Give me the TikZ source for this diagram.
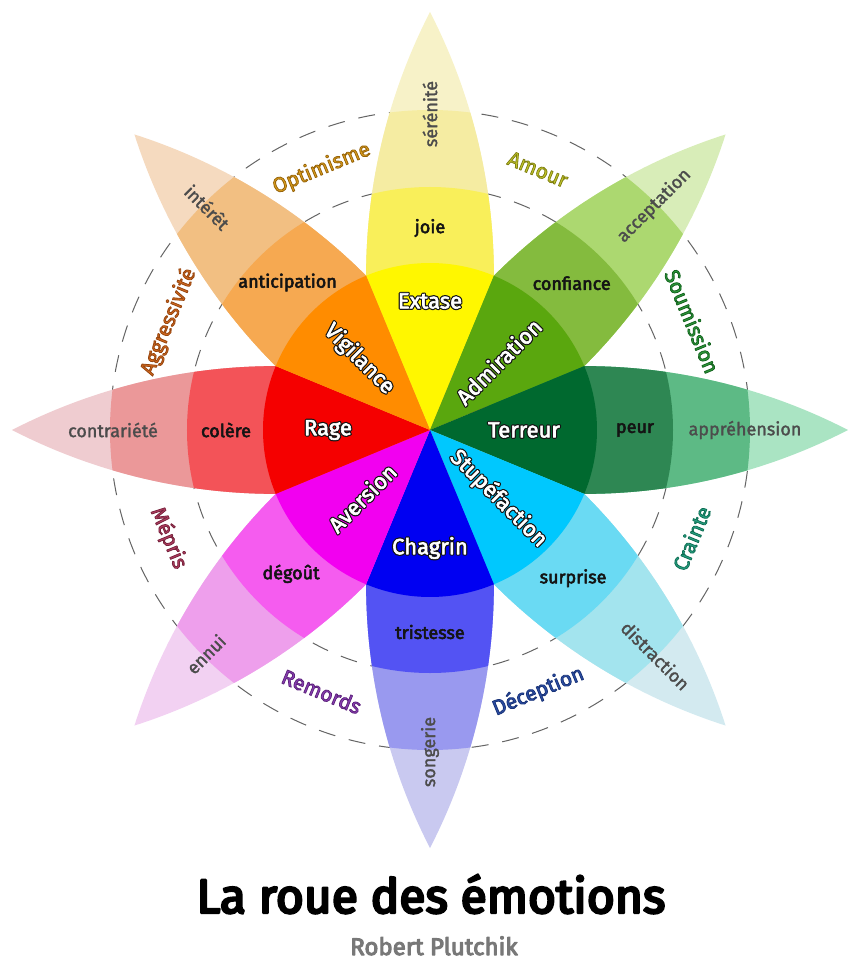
\documentclass[tikz,border=0pt]{standalone}
\usepackage{fontspec}
\setmainfont{Fira Sans}
\definecolor{Y1}{HTML}{FFF700}\definecolor{Y2}{HTML}{F9EF5A}\definecolor{Y3}{HTML}{F5ECA2}\definecolor{Y4}{HTML}{F7F2C8}
\definecolor{G1}{HTML}{5AA70E}\definecolor{G2}{HTML}{84BB3E}\definecolor{G3}{HTML}{ACD870}\definecolor{G4}{HTML}{D8EDB8}
\definecolor{D1}{HTML}{00692F}\definecolor{D2}{HTML}{2E8753}\definecolor{D3}{HTML}{5DBA85}\definecolor{D4}{HTML}{AAE4C3}
\definecolor{C1}{HTML}{00C8FE}\definecolor{C2}{HTML}{6ADAF3}\definecolor{C3}{HTML}{A3E4EE}\definecolor{C4}{HTML}{D3EAF0}
\definecolor{B1}{HTML}{0000F2}\definecolor{B2}{HTML}{5353F3}\definecolor{B3}{HTML}{9999EF}\definecolor{B4}{HTML}{C9C9F0}
\definecolor{M1}{HTML}{F200F0}\definecolor{M2}{HTML}{F55CEF}\definecolor{M3}{HTML}{EE9FEC}\definecolor{M4}{HTML}{F2D1F2}
\definecolor{R1}{HTML}{F50000}\definecolor{R2}{HTML}{F35358}\definecolor{R3}{HTML}{EB9899}\definecolor{R4}{HTML}{EFCCD0}
\definecolor{O1}{HTML}{FF8C00}\definecolor{O2}{HTML}{F6A951}\definecolor{O3}{HTML}{F2BF82}\definecolor{O4}{HTML}{F5DABF}
\definecolor{dOpt}{HTML}{DDA01C}\definecolor{dAmo}{HTML}{C4C82A}\definecolor{dSou}{HTML}{2E9A3B}\definecolor{dCra}{HTML}{27A283}
\definecolor{dDec}{HTML}{2C4FA8}\definecolor{dRem}{HTML}{8B3FB5}\definecolor{dMep}{HTML}{B23D62}\definecolor{dAgg}{HTML}{D2691E}
\definecolor{outertxt}{HTML}{4C4C4C}
\definecolor{midcol}{HTML}{141414}
% text drawn with fill + stroke (PDF text render mode 2)
\newcommand\stroketext[3]{\special{pdf:literal direct q 2 Tr #1 w #2 RG 1 j}#3\special{pdf:literal direct Q}}
% stroke only (render mode 1)
\newcommand\outlineonly[3]{\special{pdf:literal direct q 1 Tr #1 w #2 RG 1 j}#3\special{pdf:literal direct Q}}
\newcommand\drawpetal[4]{%
  \begin{scope}[rotate=#1]
    \clip (418,0) arc[start angle=62.76,end angle=117.24,radius=576.1]
                  arc[start angle=242.76,end angle=297.24,radius=576.1] -- cycle;
    \fill[#2] (-130,-90) rectangle (430,90);
    \fill[#3] (0,0) circle[radius=320];
    \fill[#4] (0,0) circle[radius=243];
  \end{scope}}
\newcommand\drawcore[2]{%
  \begin{scope}[rotate=#1]
    \fill[#2] (0,0) -- (-22.5:167) arc[start angle=-22.5,end angle=22.5,radius=167] -- cycle;
  \end{scope}}
\newcommand\corelabel[1]{\rlap{\outlineonly{3}{0.08 0.08 0.08}{#1}}\stroketext{0.6}{1 1 1}{#1}}
\newcommand\midlabel[1]{\stroketext{0.55}{0.08 0.08 0.08}{#1}}
\newcommand\outlabel[1]{\stroketext{0.3}{0.3 0.3 0.3}{#1}}
\tikzset{
  coretxt/.style={font=\fontsize{22}{24}\selectfont, text=white, inner sep=0pt},
  midtxt/.style={font=\fontsize{18}{20}\selectfont, text=midcol, inner sep=0pt},
  outtxt/.style={font=\fontsize{18}{20}\selectfont, text=outertxt, inner sep=0pt},
  dyadtxt/.style={font=\fontsize{21}{23}\selectfont, inner sep=0pt},
  dashring/.style={draw={rgb,255:red,100;green,100;blue,100}, line width=1pt, dash pattern=on 17pt off 14pt}
}
\begin{document}
\begin{tikzpicture}[x=1pt,y=1pt]
\useasboundingbox (-430,-542) rectangle (430,430);
% dashed rings
\draw[dashring] (0,0) circle[radius=243];
\draw[dashring] (0,0) circle[radius=320];
% petals
\drawpetal{90}{Y4}{Y3}{Y2}
\drawpetal{45}{G4}{G3}{G2}
\drawpetal{0}{D4}{D3}{D2}
\drawpetal{-45}{C4}{C3}{C2}
\drawpetal{-90}{B4}{B3}{B2}
\drawpetal{-135}{M4}{M3}{M2}
\drawpetal{180}{R4}{R3}{R2}
\drawpetal{135}{O4}{O3}{O2}
% core sectors
\drawcore{90}{Y1}
\drawcore{45}{G1}
\drawcore{0}{D1}
\drawcore{-45}{C1}
\drawcore{-90}{B1}
\drawcore{-135}{M1}
\drawcore{180}{R1}
\drawcore{135}{O1}
% core labels
\node[coretxt] (extase) at (90:129) {\corelabel{Extase}};
\node[coretxt, rotate=45] (admiration) at (45:97) {\corelabel{Admiration}};
\node[coretxt] (terreur) at (0:94) {\corelabel{Terreur}};
\node[coretxt, rotate=-45] (stupefaction) at (-45:97) {\corelabel{Stupéfaction}};
\node[coretxt] (chagrin) at (-90:118) {\corelabel{Chagrin}};
\node[coretxt, rotate=45] (aversion) at (-135:96) {\corelabel{Aversion}};
\node[coretxt] (rage) at (180:102) {\corelabel{Rage}};
\node[coretxt, rotate=-45] (vigilance) at (135:100) {\corelabel{Vigilance}};
% middle labels
\node[midtxt] (joie) at (90:202) {\midlabel{joie}};
\node[midtxt] (confiance) at (46:204) {\midlabel{confiance}};
\node[midtxt] (peur) at (0:205) {\midlabel{peur}};
\node[midtxt] (surprise) at (-46:206) {\midlabel{surprise}};
\node[midtxt] (tristesse) at (-90:202) {\midlabel{tristesse}};
\node[midtxt] (degout) at (-134:200) {\midlabel{dégoût}};
\node[midtxt] (colere) at (180:204) {\midlabel{colère}};
\node[midtxt] (anticipation) at (134:205) {\midlabel{anticipation}};
% outer labels
\node[outtxt, rotate=90] (serenite) at (90:316) {\outlabel{sérénité}};
\node[outtxt, rotate=45] (acceptation) at (45:317) {\outlabel{acceptation}};
\node[outtxt] (apprehension) at (0:315) {\outlabel{appréhension}};
\node[outtxt, rotate=-45] (distraction) at (-45:319) {\outlabel{distraction}};
\node[outtxt, rotate=90] (songerie) at (-90:322) {\outlabel{songerie}};
\node[outtxt, rotate=45] (ennui) at (-135:317) {\outlabel{ennui}};
\node[outtxt] (contrariete) at (180:317) {\outlabel{contrariété}};
\node[outtxt, rotate=-45] (interet) at (135:315) {\outlabel{intérêt}};
% dyads
\node[dyadtxt, text=dOpt, rotate=22.5] (optimisme) at (112.5:283) {\stroketext{0.8}{0.59 0.39 0.04}{Optimisme}};
\node[dyadtxt, text=dAmo, rotate=-22.5] (amour) at (67.5:282) {\stroketext{0.8}{0.5 0.5 0.08}{Amour}};
\node[dyadtxt, text=dSou, rotate=-67.5] (soumission) at (22.5:284) {\stroketext{0.8}{0.08 0.39 0.12}{Soumission}};
\node[dyadtxt, text=dCra, rotate=67.5] (crainte) at (-22.5:283) {\stroketext{0.8}{0.06 0.43 0.33}{Crainte}};
\node[dyadtxt, text=dDec, rotate=22.5] (deception) at (-67.5:283) {\stroketext{0.8}{0.1 0.2 0.47}{Déception}};
\node[dyadtxt, text=dRem, rotate=-22.5] (remords) at (-112.5:283) {\stroketext{0.8}{0.37 0.14 0.49}{Remords}};
\node[dyadtxt, text=dMep, rotate=-67.5] (mepris) at (-157.5:283) {\stroketext{0.8}{0.47 0.14 0.24}{Mépris}};
\node[dyadtxt, text=dAgg, rotate=67.5] (aggressivite) at (157.5:283) {\stroketext{0.8}{0.59 0.27 0.06}{Aggressivité}};
% title
\node[font=\fontsize{48}{52}\selectfont, anchor=base, inner sep=0pt] (title) at (1,-483) {\stroketext{2.4}{0 0 0}{La roue des émotions}};
\node[font=\fontsize{24}{28}\selectfont, anchor=base, inner sep=0pt, text={rgb,255:red,120;green,120;blue,120}] (author) at (4,-525) {\stroketext{1}{0.47 0.47 0.47}{Robert Plutchik}};
\end{tikzpicture}
\end{document}
